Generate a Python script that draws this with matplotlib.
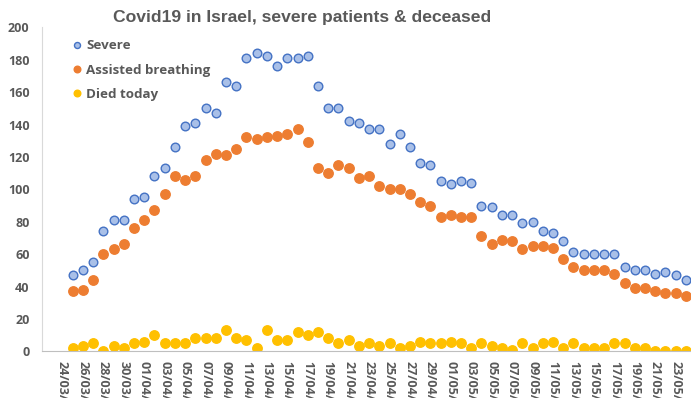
import matplotlib.pyplot as plt
import matplotlib.dates as mdates
import pandas as pd

# daily data, 25/03/2020 - 24/05/2020
dates = pd.date_range("2020-03-25", "2020-05-24", freq="D")
severe = [47, 50, 55, 74, 81, 81, 94, 95, 108, 113,
          126, 139, 141, 150, 147, 166, 164, 181, 184, 182,
          176, 181, 181, 182, 164, 150, 150, 142, 141, 137,
          137, 128, 134, 126, 116, 115, 105, 103, 105, 104,
          90, 89, 84, 84, 79, 80, 74, 73, 68, 61,
          60, 60, 60, 60, 52, 50, 50, 48, 49, 47, 44]
assisted = [37, 38, 44, 60, 63, 66, 76, 81, 87, 97,
            108, 106, 108, 118, 122, 121, 125, 132, 131, 132,
            133, 134, 137, 129, 113, 110, 115, 113, 107, 108,
            102, 100, 100, 97, 92, 90, 83, 84, 83, 83,
            71, 66, 69, 68, 63, 65, 65, 64, 57, 52,
            50, 50, 50, 48, 42, 39, 39, 37, 36, 36, 34]
died = [2, 3, 5, 0, 3, 2, 5, 6, 10, 5,
        5, 5, 8, 8, 8, 13, 8, 7, 2, 13,
        7, 7, 12, 10, 12, 8, 5, 7, 3, 5,
        3, 5, 2, 3, 6, 5, 5, 6, 5, 2,
        5, 3, 2, 1, 5, 2, 5, 6, 2, 5,
        2, 2, 2, 5, 5, 2, 2, 0, 0, 0, 0]

grey = "#595959"
fnt = "Open Sans"

fig = plt.figure(figsize=(6.91, 3.98), dpi=100)
ax = fig.add_axes([0.0608, 0.1173, 0.9392, 0.8141])

ax.plot(dates, severe, "o", ms=6.2, mfc="#A9C0E8", mec="#4472C4", mew=1.0, label="Severe")
ax.plot(dates, assisted, "o", ms=6.8, color="#ED7D31", mec="#ED7D31", label="Assisted breathing")
ax.plot(dates, died, "o", ms=6.8, color="#FFC000", mec="#FFC000", label="Died today")

ax.set_ylim(0, 200)
ax.set_yticks(range(0, 201, 20))
ax.set_xlim(pd.Timestamp("2020-03-22"), pd.Timestamp("2020-05-24 12:00"))
ax.set_xticks(pd.date_range("2020-03-24", "2020-05-23", freq="2D"))
ax.xaxis.set_major_formatter(mdates.DateFormatter("%d/%m/%Y"))

for s in ["top", "right"]:
    ax.spines[s].set_visible(False)
ax.spines["bottom"].set_color("#BFBFBF")
ax.spines["left"].set_color("#D9D9D9")

ax.tick_params(axis="both", length=0, colors=grey)
ax.tick_params(axis="y", pad=9)
ax.tick_params(axis="x", pad=7)
for lbl in ax.get_yticklabels():
    lbl.set_fontfamily(fnt)
    lbl.set_fontweight("bold")
    lbl.set_fontsize(9)
for lbl in ax.get_xticklabels():
    lbl.set_fontfamily(fnt)
    lbl.set_fontweight("bold")
    lbl.set_fontsize(9)
    lbl.set_rotation(-90)
    lbl.set_ha("center")
    lbl.set_va("top")

fig.text(0.437, 0.955, "Covid19 in Israel, severe patients & deceased", ha="center", va="center",
         fontsize=12.6, fontweight="bold", color=grey, family="Liberation Sans")

leg = ax.legend(loc="upper left", bbox_to_anchor=(0.025, 1.0), frameon=False, markerscale=0.7,
                handletextpad=0.2, labelspacing=0.85, handlelength=1.0,
                prop={"family": fnt, "weight": "bold", "size": 9.6})
for t in leg.get_texts():
    t.set_color(grey)

plt.savefig("out.png", dpi=100)
